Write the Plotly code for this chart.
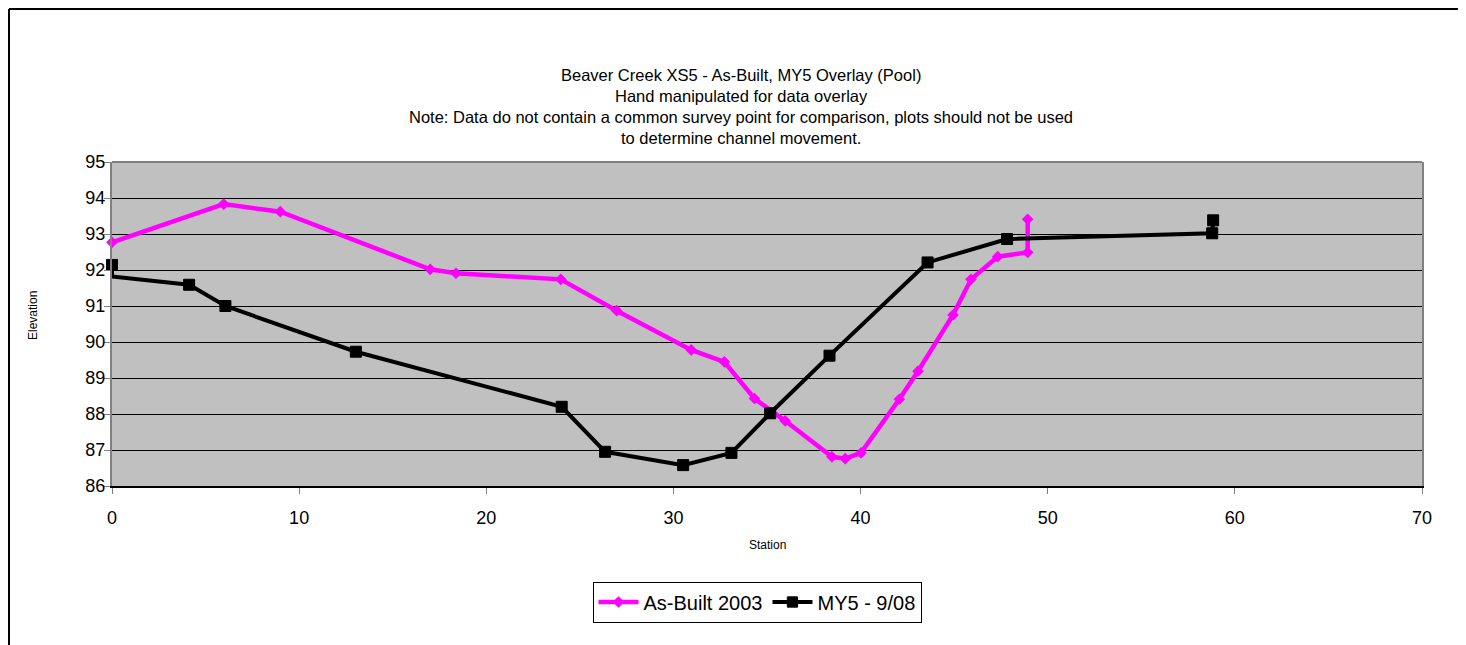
import plotly.graph_objects as go

# ---- data ----
asbuilt_station = [0, 5.97, 8.99, 17.0, 18.38, 23.98, 26.97, 30.95, 32.72, 34.33, 35.97,
                   38.47, 39.18, 40.02, 42.07, 43.07, 44.94, 45.9, 47.33, 48.93, 48.93]
asbuilt_elev = [92.77, 93.83, 93.62, 92.02, 91.91, 91.74, 90.87, 89.78, 89.45, 88.43, 87.81,
                86.81, 86.76, 86.92, 88.41, 89.19, 90.75, 91.74, 92.37, 92.49, 93.41]

my5_station = [0, 0, 4.12, 6.06, 13.03, 24.03, 26.35, 30.52, 33.1, 35.17, 38.34, 43.58,
               47.83, 58.79, 58.84]
my5_elev = [92.14, 91.82, 91.59, 91.0, 89.73, 88.2, 86.95, 86.58, 86.92, 88.02, 89.62, 92.21,
            92.86, 93.02, 93.38]

series_names = ["As-Built 2003", "MY5 - 9/08"]
title_lines = [
    "Beaver Creek XS5 - As-Built, MY5 Overlay (Pool)",
    "Hand manipulated for data overlay",
    "Note: Data do not contain a common survey point for comparison, plots should not be used",
    "to determine channel movement.",
]
x_ticks = [0, 10, 20, 30, 40, 50, 60, 70]
y_ticks = [86, 87, 88, 89, 90, 91, 92, 93, 94, 95]

FONT = "Liberation Sans, Arial, sans-serif"
OFF = 8  # page body margin
W, H = 1466, 645
L, R, T, B = 112, 1422, 162, 486  # plot area in page px

def px_x(p):
    return (p - L) / (R - L)

def px_y(p):
    return (B - p) / (B - T)

fig = go.Figure()
fig.add_trace(go.Scatter(
    x=asbuilt_station, y=asbuilt_elev, name=series_names[0], mode="lines+markers",
    line=dict(color="#FF00FF", width=4.5), cliponaxis=False,
    marker=dict(symbol="diamond", size=9, color="#FF00FF", line=dict(width=0)),
))
my5_sizes = [11] * len(my5_station)
my5_sizes[1] = 0
fig.add_trace(go.Scatter(
    x=my5_station, y=my5_elev, name=series_names[1], mode="lines+markers",
    line=dict(color="#000000", width=4), cliponaxis=False,
    marker=dict(symbol="square", size=my5_sizes, color="#000000", opacity=1,
                line=dict(width=1, color="#000000")),
))

annotations = []
for i, t in enumerate(title_lines):
    annotations.append(dict(
        text=t, x=px_x(741), y=px_y(75 + 21 * i), xref="paper", yref="paper",
        xanchor="center", yanchor="middle", showarrow=False,
        font=dict(family=FONT, size=16.5, color="#000000"),
    ))
annotations.append(dict(
    text="Elevation", x=px_x(33), y=px_y(316), xref="paper", yref="paper",
    xanchor="center", yanchor="middle", showarrow=False, textangle=-90,
    font=dict(family=FONT, size=12, color="#000000"),
))
annotations.append(dict(
    text="Station", x=px_x(767), y=px_y(545), xref="paper", yref="paper",
    xanchor="center", yanchor="middle", showarrow=False,
    font=dict(family=FONT, size=12, color="#000000"),
))

bx, by = OFF + 1, OFF + 1  # outer chart border, as close to the page edge as possible
shapes = [
    dict(type="line", xref="paper", yref="paper", x0=px_x(bx), x1=px_x(bx),
         y0=px_y(by), y1=px_y(700), line=dict(color="#000000", width=2)),
    dict(type="line", xref="paper", yref="paper", x0=px_x(bx), x1=px_x(1500),
         y0=px_y(by), y1=px_y(by), line=dict(color="#000000", width=2)),
    # top border of plot area
    dict(type="line", xref="paper", yref="paper", x0=0, x1=1, y0=1, y1=1,
         line=dict(color="#808080", width=2)),
]

fig.update_layout(
    width=W - OFF, height=H - OFF,
    margin=dict(l=L - OFF, r=W - R, t=T - OFF, b=H - B),
    paper_bgcolor="#FFFFFF", plot_bgcolor="#C0C0C0",
    font=dict(family=FONT, size=17, color="#000000"),
    showlegend=True,
    legend=dict(
        orientation="h", x=px_x(757), y=px_y(602), xanchor="center", yanchor="middle",
        bordercolor="#000000", borderwidth=1, bgcolor="#FFFFFF",
        font=dict(family=FONT, size=20, color="#000000"),
        itemwidth=40, tracegroupgap=0,
    ),
    annotations=annotations,
    shapes=shapes,
)
fig.update_xaxes(
    range=[0, 70], tickvals=x_ticks, ticktext=[str(v) for v in x_ticks],
    showgrid=False, zeroline=False, showline=True, linecolor="#000000", linewidth=2,
    ticks="outside", ticklen=6, tickcolor="#808080", tickwidth=1, ticklabelstandoff=8,
    tickfont=dict(family=FONT, size=18, color="#000000"),
)
fig.update_yaxes(
    range=[86, 95], tickvals=y_ticks, ticktext=[str(v) for v in y_ticks],
    showgrid=True, gridcolor="#000000", gridwidth=1, zeroline=False,
    showline=True, linecolor="#808080", linewidth=2, mirror=True,
    ticks="outside", ticklen=6, tickcolor="#808080", tickwidth=1, ticklabelstandoff=-5,
    tickfont=dict(family=FONT, size=18, color="#000000"),
)

fig.write_html("out.html")
